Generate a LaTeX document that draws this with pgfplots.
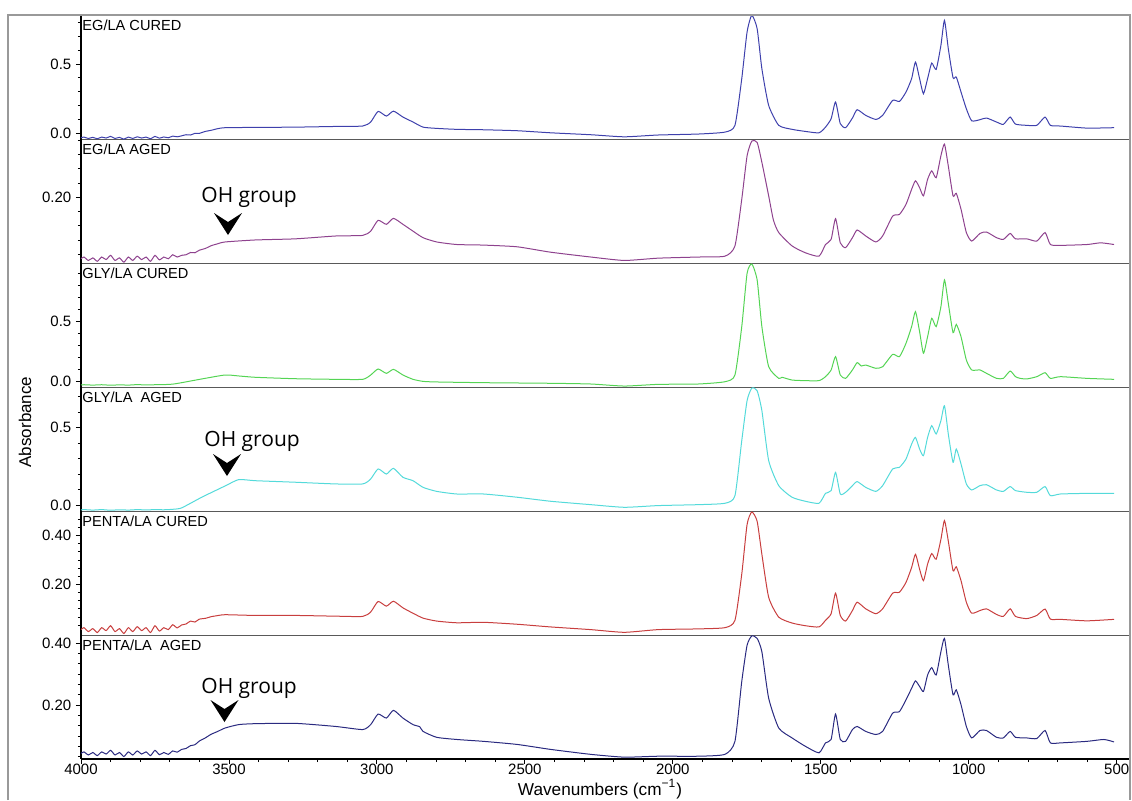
\documentclass[border=0pt]{standalone}
\usepackage{pgfplots}
\pgfplotsset{compat=1.18}
\usepackage{fontspec}
\setmainfont{Liberation Sans}
\newfontfamily\ohfont{Open Sans}
\definecolor{cEGc}{RGB}{62,64,172}
\definecolor{cEGa}{RGB}{142,66,142}
\definecolor{cGLc}{RGB}{84,212,84}
\definecolor{cGLa}{RGB}{84,218,218}
\definecolor{cPEc}{RGB}{200,62,62}
\definecolor{cPEa}{RGB}{42,42,128}

\pgfplotsset{
  panel/.style={
    scale only axis, width=524.5pt, height=62pt, anchor=north west,
    xmin=455, xmax=4000, x dir=reverse,
    axis x line*=bottom, axis y line*=left,
    every outer x axis line/.append style={-},
    every outer y axis line/.append style={-},
    x axis line style={-, draw=black!65, line width=0.5pt},
    y axis line style={-, draw=black, line width=1pt},
    xtick=\empty,
    tick align=outside,
    major tick length=2.5pt, minor tick length=1.5pt,
    tick style={black, line width=0.4pt},
    ticklabel style={font=\fontsize{7.5}{8}\selectfont},
    yticklabel style={xshift=1.2pt},
    xticklabel style={inner sep=1pt, yshift=1pt},
    every axis plot/.append style={line width=0.5pt, smooth, tension=0.35},
  },
}
\tikzset{plabel/.style={anchor=north west, inner sep=0pt, font=\fontsize{7.3}{8}\selectfont}}

\begin{document}
\begin{tikzpicture}[x=1pt,y=1pt]
\useasboundingbox (0,0) rectangle (566,-400);

% ---------- Panel 1: EG/LA CURED
\begin{axis}[panel, at={(40.5pt,-7.5pt)}, ymin=-0.043, ymax=0.855,
  ytick={0,0.5}, yticklabels={0.0,0.5},
  minor ytick={0.1,0.2,0.3,0.4,0.6,0.7,0.8}]
\addplot[cEGc] coordinates {(4000,-0.034)(3990,-0.029)(3975,-0.039)(3960,-0.031)(3945,-0.041)(3930,-0.029)(3915,-0.036)(3900,-0.024)(3885,-0.039)(3870,-0.031)(3855,-0.044)(3840,-0.029)(3825,-0.039)(3810,-0.027)(3795,-0.036)(3780,-0.029)(3765,-0.041)(3750,-0.024)(3735,-0.037)(3720,-0.028)(3705,-0.034)(3690,-0.022)(3675,-0.027)(3660,-0.020)(3645,-0.012)(3630,-0.014)(3615,-0.002)(3600,-0.002)(3580,0.012)(3560,0.020)(3540,0.031)(3513,0.039)(3411,0.041)(3275,0.043)(3139,0.048)(3048,0.051)(3021,0.080)(2996,0.157)(2968,0.123)(2944,0.159)(2912,0.116)(2878,0.080)(2844,0.043)(2798,0.034)(2730,0.027)(2640,0.024)(2526,0.017)(2413,0.002)(2277,-0.012)(2164,-0.027)(2050,-0.014)(1914,-0.007)(1824,0.007)(1790,0.056)(1767,0.394)(1749,0.732)(1733,0.853)(1715,0.756)(1699,0.466)(1676,0.200)(1642,0.056)(1597,0.027)(1552,0.012)(1506,0.002)(1484,0.043)(1465,0.104)(1450,0.225)(1434,0.068)(1416,0.039)(1393,0.109)(1377,0.169)(1348,0.128)(1314,0.099)(1291,0.128)(1257,0.237)(1234,0.229)(1212,0.297)(1193,0.394)(1180,0.514)(1166,0.394)(1153,0.285)(1139,0.394)(1125,0.507)(1110,0.461)(1094,0.635)(1082,0.816)(1069,0.611)(1053,0.401)(1042,0.406)(1026,0.297)(1008,0.176)(990,0.089)(962,0.097)(940,0.109)(906,0.080)(883,0.063)(860,0.116)(842,0.065)(804,0.056)(770,0.056)(742,0.116)(724,0.056)(690,0.051)(600,0.036)(509,0.039)};
\node[plabel] at (rel axis cs:0.001,0.962) {EG/LA CURED};
\end{axis}

% ---------- Panel 2: EG/LA AGED
\begin{axis}[panel, at={(40.5pt,-69.5pt)}, ymin=-0.031, ymax=0.405,
  ytick={0.2}, yticklabels={0.20},
  minor ytick={0,0.05,0.1,0.15,0.25,0.3,0.35,0.4}]
\addplot[cEGa] coordinates {(4000,-0.016)(3990,-0.010)(3975,-0.022)(3960,-0.013)(3945,-0.025)(3930,-0.010)(3915,-0.019)(3900,-0.004)(3885,-0.022)(3870,-0.013)(3855,-0.028)(3840,-0.010)(3825,-0.022)(3810,-0.007)(3795,-0.019)(3780,-0.010)(3765,-0.025)(3750,-0.004)(3735,-0.020)(3720,-0.010)(3705,-0.016)(3690,-0.002)(3675,-0.010)(3660,-0.004)(3645,-0.002)(3630,0.006)(3615,0.005)(3600,0.014)(3580,0.020)(3560,0.030)(3540,0.036)(3513,0.043)(3411,0.050)(3275,0.054)(3139,0.064)(3048,0.066)(3021,0.081)(2996,0.119)(2968,0.105)(2944,0.126)(2912,0.105)(2878,0.081)(2844,0.058)(2798,0.043)(2730,0.034)(2640,0.032)(2526,0.026)(2413,0.007)(2277,-0.010)(2164,-0.022)(2050,-0.014)(1914,-0.010)(1824,-0.007)(1790,0.029)(1767,0.193)(1749,0.346)(1733,0.398)(1715,0.393)(1699,0.323)(1676,0.205)(1660,0.120)(1642,0.076)(1597,0.029)(1552,0.005)(1506,-0.007)(1484,0.034)(1465,0.052)(1450,0.125)(1434,0.040)(1416,0.023)(1393,0.058)(1377,0.085)(1348,0.064)(1314,0.043)(1291,0.064)(1257,0.134)(1234,0.140)(1212,0.175)(1193,0.228)(1180,0.258)(1166,0.234)(1153,0.205)(1139,0.263)(1125,0.293)(1110,0.269)(1094,0.346)(1082,0.387)(1069,0.310)(1053,0.205)(1042,0.214)(1026,0.158)(1008,0.076)(990,0.046)(962,0.073)(940,0.078)(906,0.058)(883,0.052)(860,0.073)(842,0.054)(804,0.054)(770,0.046)(742,0.076)(724,0.034)(690,0.031)(600,0.034)(554,0.040)(509,0.034)};
\node[plabel] at (rel axis cs:0.001,0.962) {EG/LA AGED};
\end{axis}

% ---------- Panel 3: GLY/LA CURED
\begin{axis}[panel, at={(40.5pt,-131.5pt)}, ymin=-0.05, ymax=0.983,
  ytick={0,0.5}, yticklabels={0.0,0.5},
  minor ytick={0.1,0.2,0.3,0.4,0.6,0.7,0.8,0.9}]
\addplot[cGLc] coordinates {(4000,-0.033)(3990,-0.031)(3960,-0.034)(3930,-0.031)(3900,-0.035)(3870,-0.032)(3840,-0.034)(3810,-0.030)(3780,-0.033)(3750,-0.031)(3720,-0.030)(3690,-0.026)(3660,-0.014)(3592,0.017)(3513,0.050)(3467,0.042)(3411,0.031)(3275,0.019)(3139,0.014)(3048,0.014)(3021,0.050)(2996,0.100)(2968,0.064)(2944,0.097)(2912,0.050)(2878,0.014)(2844,-0.003)(2798,-0.008)(2640,-0.014)(2413,-0.019)(2277,-0.025)(2164,-0.042)(2050,-0.028)(1914,-0.025)(1824,-0.006)(1790,0.050)(1767,0.453)(1749,0.897)(1733,0.975)(1715,0.842)(1699,0.453)(1676,0.119)(1642,0.022)(1631,0.031)(1597,0.008)(1552,0.003)(1506,0.003)(1484,0.036)(1465,0.092)(1450,0.203)(1434,0.050)(1416,0.022)(1393,0.092)(1377,0.153)(1363,0.125)(1348,0.133)(1314,0.106)(1291,0.119)(1257,0.222)(1234,0.203)(1212,0.314)(1193,0.453)(1180,0.578)(1166,0.411)(1153,0.231)(1139,0.369)(1125,0.522)(1110,0.453)(1094,0.619)(1082,0.842)(1069,0.647)(1053,0.403)(1042,0.472)(1026,0.369)(1008,0.175)(990,0.092)(962,0.092)(940,0.064)(906,0.022)(883,0.022)(860,0.083)(842,0.036)(826,0.022)(804,0.017)(770,0.036)(742,0.069)(724,0.022)(690,0.036)(600,0.022)(509,0.014)};
\node[plabel] at (rel axis cs:0.001,0.962) {GLY/LA CURED};
\end{axis}

% ---------- Panel 4: GLY/LA AGED
\begin{axis}[panel, at={(40.5pt,-193.5pt)}, ymin=-0.039, ymax=0.763,
  ytick={0,0.5}, yticklabels={0.0,0.5},
  minor ytick={0.1,0.2,0.3,0.4,0.6,0.7}]
\addplot[cGLa] coordinates {(4000,-0.032)(3990,-0.030)(3960,-0.033)(3930,-0.030)(3900,-0.034)(3870,-0.031)(3840,-0.033)(3810,-0.030)(3780,-0.032)(3750,-0.030)(3720,-0.031)(3690,-0.028)(3660,-0.019)(3592,0.050)(3513,0.123)(3467,0.164)(3411,0.157)(3275,0.147)(3139,0.136)(3048,0.136)(3021,0.168)(2996,0.233)(2968,0.200)(2944,0.237)(2912,0.179)(2878,0.157)(2844,0.114)(2798,0.088)(2730,0.071)(2640,0.071)(2526,0.050)(2413,0.024)(2277,0.002)(2164,-0.015)(2050,-0.004)(1914,0.002)(1824,0.011)(1790,0.060)(1767,0.416)(1749,0.675)(1733,0.756)(1715,0.739)(1699,0.610)(1676,0.287)(1642,0.125)(1597,0.050)(1552,0.024)(1506,0.011)(1484,0.075)(1465,0.093)(1450,0.211)(1434,0.071)(1416,0.082)(1393,0.125)(1377,0.151)(1348,0.114)(1314,0.088)(1291,0.125)(1257,0.233)(1234,0.244)(1212,0.297)(1193,0.394)(1180,0.437)(1166,0.362)(1153,0.319)(1139,0.437)(1125,0.513)(1110,0.459)(1094,0.545)(1082,0.642)(1069,0.459)(1053,0.276)(1042,0.362)(1026,0.265)(1008,0.136)(990,0.097)(962,0.125)(940,0.131)(906,0.097)(883,0.088)(860,0.119)(842,0.093)(804,0.082)(770,0.082)(742,0.119)(724,0.060)(690,0.071)(600,0.075)(509,0.075)};
\node[plabel] at (rel axis cs:0.001,0.962) {GLY/LA \ AGED};
\end{axis}

% ---------- Panel 5: PENTA/LA CURED
\begin{axis}[panel, at={(40.5pt,-255.5pt)}, ymin=-0.007, ymax=0.50,
  ytick={0.2,0.4}, yticklabels={0.20,0.40},
  minor ytick={0.0333,0.0667,0.1,0.1333,0.1667,0.2333,0.2667,0.3,0.3333,0.3667,0.4333,0.4667}]
\addplot[cPEc] coordinates {(4000,0.015)(3990,0.023)(3975,0.007)(3960,0.019)(3945,0.003)(3930,0.023)(3915,0.011)(3900,0.031)(3885,0.007)(3870,0.019)(3855,-0.001)(3840,0.023)(3825,0.007)(3810,0.027)(3795,0.011)(3780,0.023)(3765,0.003)(3750,0.031)(3735,0.009)(3720,0.023)(3705,0.015)(3690,0.035)(3675,0.022)(3660,0.034)(3645,0.038)(3630,0.050)(3615,0.046)(3600,0.058)(3580,0.061)(3560,0.068)(3540,0.072)(3513,0.076)(3411,0.073)(3275,0.073)(3139,0.070)(3048,0.069)(3021,0.087)(2996,0.130)(2968,0.111)(2944,0.131)(2912,0.104)(2878,0.082)(2844,0.062)(2798,0.050)(2730,0.043)(2640,0.045)(2526,0.037)(2413,0.026)(2277,0.015)(2164,0.004)(2050,0.015)(1914,0.018)(1824,0.023)(1790,0.053)(1767,0.242)(1749,0.445)(1733,0.496)(1715,0.458)(1699,0.323)(1676,0.147)(1642,0.066)(1597,0.042)(1552,0.031)(1506,0.026)(1484,0.053)(1465,0.080)(1450,0.164)(1434,0.073)(1416,0.050)(1393,0.093)(1377,0.127)(1348,0.100)(1314,0.080)(1291,0.100)(1257,0.164)(1234,0.168)(1212,0.208)(1193,0.269)(1180,0.323)(1166,0.262)(1153,0.215)(1139,0.283)(1125,0.326)(1110,0.303)(1094,0.384)(1082,0.461)(1069,0.377)(1053,0.256)(1042,0.272)(1026,0.215)(1008,0.127)(990,0.082)(962,0.093)(940,0.100)(906,0.077)(883,0.069)(860,0.100)(842,0.069)(804,0.060)(770,0.073)(742,0.099)(724,0.058)(690,0.057)(600,0.051)(509,0.057)};
\node[plabel] at (rel axis cs:0.001,0.962) {PENTA/LA CURED};
\end{axis}

% ---------- Panel 6: PENTA/LA AGED
\begin{axis}[panel, at={(40.5pt,-317.5pt)}, ymin=0.026, ymax=0.426,
  ytick={0.2,0.4}, yticklabels={0.20,0.40},
  minor ytick={0.0333,0.0667,0.1,0.1333,0.1667,0.2333,0.2667,0.3,0.3333,0.3667},
  x axis line style={-, draw=black, line width=1pt},
  xtick={500,1000,1500,2000,2500,3000,3500,4000},
  xticklabels={500,1000,1500,2000,2500,3000,3500,4000},
  minor x tick num=4]
\addplot[cPEa] coordinates {(4000,0.044)(3990,0.049)(3975,0.039)(3960,0.047)(3945,0.037)(3930,0.049)(3915,0.042)(3900,0.054)(3885,0.039)(3870,0.047)(3855,0.034)(3840,0.049)(3825,0.039)(3810,0.052)(3795,0.042)(3780,0.049)(3765,0.037)(3750,0.054)(3735,0.040)(3720,0.047)(3705,0.041)(3690,0.052)(3675,0.048)(3660,0.057)(3645,0.060)(3630,0.069)(3615,0.072)(3600,0.084)(3580,0.094)(3560,0.106)(3540,0.114)(3513,0.126)(3467,0.137)(3411,0.140)(3275,0.141)(3139,0.131)(3048,0.121)(3021,0.137)(2996,0.171)(2968,0.158)(2944,0.183)(2912,0.158)(2878,0.137)(2855,0.130)(2844,0.115)(2798,0.096)(2730,0.089)(2640,0.083)(2526,0.073)(2413,0.057)(2277,0.041)(2164,0.032)(2050,0.035)(1914,0.035)(1824,0.041)(1790,0.083)(1767,0.276)(1749,0.393)(1733,0.423)(1715,0.415)(1699,0.372)(1676,0.222)(1642,0.126)(1597,0.094)(1552,0.067)(1506,0.046)(1484,0.078)(1465,0.089)(1450,0.171)(1434,0.089)(1416,0.083)(1393,0.121)(1377,0.131)(1348,0.115)(1314,0.105)(1291,0.115)(1257,0.174)(1234,0.179)(1212,0.217)(1193,0.254)(1180,0.278)(1166,0.260)(1153,0.244)(1139,0.297)(1125,0.321)(1110,0.297)(1094,0.372)(1082,0.415)(1069,0.329)(1053,0.233)(1042,0.249)(1026,0.201)(1008,0.131)(990,0.094)(962,0.118)(940,0.118)(906,0.096)(883,0.094)(860,0.115)(842,0.096)(804,0.094)(770,0.092)(742,0.118)(724,0.078)(690,0.078)(600,0.083)(543,0.089)(509,0.081)};
\node[plabel] at (rel axis cs:0.001,0.962) {PENTA/LA \ AGED};
\end{axis}

% ---------- outer frame
\draw[black!40, line width=0.6pt] (4,-400) -- (4,-7.5) -- (565,-7.5) -- (565,-400);

% ---------- axis titles
\node[rotate=90, font=\fontsize{8.5}{9}\selectfont] at (12.5,-211) {Absorbance};
\node[anchor=base, inner sep=0pt, font=\fontsize{8.6}{9}\selectfont] at (300,-397.8) {Wavenumbers (cm\textsuperscript{−1})};

% ---------- OH group annotations
\node[anchor=base west, inner sep=0pt, font=\ohfont\fontsize{10.5}{11}\selectfont] at (100.5,-101) {OH group};
\fill (107,-106.5) -- (114,-111) -- (121,-106.5) -- (114,-117.5) -- cycle;
\node[anchor=base west, inner sep=0pt, font=\ohfont\fontsize{10.5}{11}\selectfont] at (102,-223) {OH group};
\fill (106.5,-227) -- (113.5,-231.5) -- (120.5,-227) -- (113.5,-238) -- cycle;
\node[anchor=base west, inner sep=0pt, font=\ohfont\fontsize{10.5}{11}\selectfont] at (100.5,-346.5) {OH group};
\fill (105.25,-350) -- (112.25,-354.5) -- (119.25,-350) -- (112.25,-361) -- cycle;
\end{tikzpicture}
\end{document}
